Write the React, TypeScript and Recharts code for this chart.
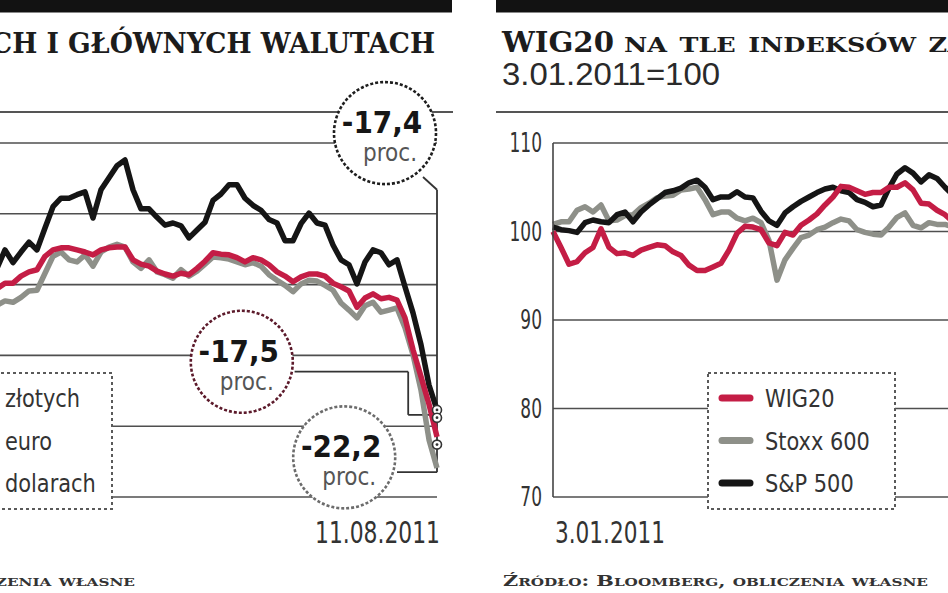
import React from 'react';
import { LineChart, Line, XAxis, YAxis, CartesianGrid, ReferenceDot, ReferenceLine, Legend } from 'recharts';

const RED = '#c41d45';
const GRAY = '#8e9089';
const BLACK = '#151515';
const GRID = '#4f4f4f';
const NARROW = "'Liberation Sans Narrow', 'DejaVu Sans Condensed', sans-serif";
const SLAB = "'DejaVu Serif', serif";

// left panel: WIG20 counted in PLN / EUR / USD, 3.01.2011 = 100 (only the visible stretch up to 11.08)
const leftZloty = [99.4, 100.2, 100.2, 101.2, 101.8, 102.1, 104.0, 104.9, 105.2, 105.2, 104.9, 104.6, 104.2, 104.9, 105.2, 105.3, 105.3, 103.5, 102.9, 102.6, 101.9, 101.5, 101.2, 101.6, 101.4, 102.3, 103.3, 104.5, 104.3, 104.2, 103.8, 103.2, 103.8, 103.5, 102.8, 101.8, 101.2, 100.4, 101.1, 101.5, 101.5, 101.2, 100.2, 99.7, 99.1, 96.8, 98.1, 98.7, 98.0, 98.2, 97.8, 95.3, 90.8, 87.0, 83.1, 78.5];
const leftEuro = [97.1, 97.7, 97.5, 98.2, 99.1, 99.2, 101.6, 104.0, 104.6, 103.5, 103.2, 104.2, 102.6, 104.6, 105.3, 105.7, 105.3, 103.2, 102.3, 103.5, 101.8, 101.4, 100.9, 102.1, 101.2, 101.9, 102.9, 103.9, 103.8, 103.6, 103.2, 102.8, 103.1, 102.6, 101.4, 100.6, 99.9, 99.0, 100.1, 100.6, 100.5, 99.9, 99.2, 97.4, 96.4, 95.3, 97.0, 97.5, 96.1, 96.4, 96.7, 93.9, 90.1, 85.1, 78.1, 74.1];
const leftDollar = [102.3, 104.9, 103.1, 104.6, 106.0, 104.9, 108.0, 111.0, 112.2, 112.2, 112.7, 113.1, 109.4, 113.4, 115.1, 116.8, 117.6, 113.4, 110.7, 110.7, 109.5, 108.4, 108.7, 108.3, 106.6, 107.7, 108.8, 111.9, 112.8, 114.1, 114.1, 112.2, 111.2, 110.5, 109.2, 108.7, 106.2, 106.2, 108.6, 110.1, 108.7, 108.4, 105.6, 103.5, 102.8, 100.1, 103.2, 104.9, 104.5, 102.8, 103.5, 99.7, 96.0, 91.5, 85.8, 82.3];
const leftTicks = [70, 80, 90, 100, 110, 120];
const leftDateLabels: Record<number, string> = { 55: '11.08.2011' };
const leftLegendOrder = ['złotych', 'euro', 'dolarach'];

// right panel: WIG20 vs foreign indices, 3.01.2011 = 100 (visible part, Jan - mid May)
const rightWig20 = [100.0, 98.2, 96.3, 96.6, 97.6, 98.2, 100.3, 98.2, 97.5, 97.6, 97.3, 97.9, 98.2, 98.5, 98.4, 97.7, 97.3, 96.2, 95.6, 95.6, 96.0, 96.4, 97.9, 99.8, 100.6, 100.5, 100.2, 98.7, 98.4, 99.9, 99.6, 100.7, 101.3, 102.0, 103.0, 103.9, 105.1, 105.0, 104.6, 104.2, 104.4, 104.4, 105.0, 105.0, 105.5, 104.7, 103.2, 103.1, 102.4, 101.9, 101.1];
const rightStoxx = [100.8, 101.1, 101.1, 102.4, 102.8, 102.2, 103.0, 101.2, 101.3, 101.8, 101.9, 102.7, 103.2, 103.8, 104.0, 104.1, 104.7, 104.8, 105.0, 103.6, 101.9, 102.2, 102.2, 101.5, 101.2, 101.5, 101.0, 99.0, 94.5, 96.8, 98.1, 99.3, 99.6, 100.2, 100.5, 101.0, 101.4, 101.2, 100.2, 99.9, 99.7, 99.6, 100.5, 101.6, 102.1, 100.7, 100.4, 101.0, 100.8, 100.8, 100.5];
const rightSp500 = [100.5, 100.2, 100.1, 99.9, 101.0, 101.3, 101.1, 101.0, 101.9, 102.2, 101.1, 102.2, 103.0, 103.7, 104.4, 104.6, 104.9, 105.5, 105.8, 105.0, 103.6, 103.9, 103.9, 104.5, 103.9, 103.8, 102.3, 101.2, 100.7, 102.1, 102.8, 103.4, 103.9, 104.4, 104.8, 105.0, 104.6, 104.4, 103.6, 103.3, 102.8, 103.0, 104.9, 106.5, 107.2, 106.6, 105.6, 106.4, 106.0, 105.0, 104.1];
const rightTicks = [70, 80, 90, 100, 110];
const rightDateLabels: Record<number, string> = { 0: '3.01.2011' };
const rightLegendOrder = ['WIG20', 'Stoxx 600', 'S&P 500'];

const leftData = leftZloty.map((v, i) => ({ t: i, pln: v, eur: leftEuro[i], usd: leftDollar[i] }));
const rightData = rightWig20.map((v, i) => ({ t: i, wig: v, stoxx: rightStoxx[i], sp: rightSp500[i] }));

// callouts on the left panel (in chart units)
const callouts = [
  { label: '-17,4', t: 48.5, v: 121.4, color: '#1e1e1e' },
  { label: '-17,5', t: 30.6, v: 89.1, color: '#5c1a2b' },
  { label: '-22,2', t: 43.4, v: 75.6, color: '#6c6c6c' },
];
const connectors = [
  [{ x: 53.25, y: 115.2 }, { x: 55, y: 113.4 }],
  [{ x: 55, y: 113.4 }, { x: 55, y: 73.5 }],
  [{ x: 55, y: 73.5 }, { x: 50, y: 73.5 }],
  [{ x: 37.2, y: 87.7 }, { x: 51.4, y: 87.7 }],
  [{ x: 51.4, y: 87.7 }, { x: 51.4, y: 81.6 }],
  [{ x: 51.4, y: 81.6 }, { x: 55, y: 81.6 }],
];
const endMarks = [82.3, 81.2, 77.4];

const Callout = (props: any) => {
  const { cx, cy, label, color } = props;
  return (
    <g>
      <circle cx={cx} cy={cy} r={51} fill="#fff" stroke={color} strokeWidth={2.6} strokeDasharray="3 2" />
      <text x={cx - 3} y={cy} textAnchor="middle" fontFamily={NARROW} fontWeight={700} fontSize={31} fill="#161616">{label}</text>
      <text x={cx + 5} y={cy + 28} textAnchor="middle" fontFamily={NARROW} fontSize={24} fill="#555">proc.</text>
    </g>
  );
};

const EndMark = (props: any) => {
  const { cx, cy } = props;
  return (
    <g>
      <circle cx={cx} cy={cy} r={4.5} fill="#fff" stroke="#333" strokeWidth={1.6} />
      <circle cx={cx} cy={cy} r={1.4} fill="#333" />
    </g>
  );
};

// narrow digits like the paper's condensed face
const ValueTick = (props: any) => {
  const { x, y, payload } = props;
  return (
    <g transform={`translate(${x},${y})`}>
      <text transform="scale(0.7,1)" dy={9} textAnchor="end" fontFamily={NARROW} fontSize={27} fill="#333">{payload.value}</text>
    </g>
  );
};

const DateTick = (props: any) => {
  const { x, y, payload, labels, anchor, shift, len } = props;
  return (
    <text x={x + shift} y={y} dy={38} textAnchor={anchor} textLength={len} lengthAdjust="spacingAndGlyphs"
      fontFamily={NARROW} fontSize={30} fill="#333">{labels[payload.value]}</text>
  );
};

const BoxLegend = (props: any) => {
  const { payload, order, width, textX } = props;
  const items = [...(payload || [])].sort((a: any, b: any) => order.indexOf(a.value) - order.indexOf(b.value));
  return (
    <svg width={width} height={138} style={{ display: 'block', overflow: 'visible' }}>
      <rect x={1} y={1} width={width - 2} height={136} fill="#fff" stroke="#5a5a5a" strokeWidth={2} strokeDasharray="3 3" />
      {items.map((it: any, i: number) => (
        <g key={it.value}>
          <line x1={textX - 43} x2={textX - 15} y1={26 + i * 42.5} y2={26 + i * 42.5} stroke={it.color} strokeWidth={7} strokeLinecap="round" />
          <g transform={`translate(${textX},${26 + i * 42.5 + 9})`}>
            <text transform="scale(0.93,1)" fontFamily={NARROW} fontSize={25} fill="#333">{it.value}</text>
          </g>
        </g>
      ))}
    </svg>
  );
};

const Frame = () => (
  <svg width={948} height={593} style={{ position: 'absolute', left: 0, top: 0 }}>
    <rect x={0} y={0} width={452} height={12.5} fill="#121212" />
    <rect x={496} y={0} width={452} height={12.5} fill="#121212" />
    <line x1={0} x2={453} y1={112} y2={112} stroke="#555" strokeWidth={2} />
    <line x1={496} x2={948} y1={112} y2={112} stroke="#555" strokeWidth={2} />

    <text x={-12} y={53} textAnchor="end" fontFamily={SLAB} fontWeight={700} fontSize={27} fill="#1c1c1c">WIG20 W ZŁOTY</text>
    <text x={-9} y={53} textLength={444} lengthAdjust="spacingAndGlyphs" fontFamily={SLAB} fontWeight={700} fontSize={27} fill="#1c1c1c">CH I GŁÓWNYCH WALUTACH</text>

    <text x={502} y={52} textLength={112} lengthAdjust="spacingAndGlyphs" fontFamily={SLAB} fontWeight={700} fontSize={27} fill="#1c1c1c">WIG20</text>
    <text x={624} y={52} textLength={565} lengthAdjust="spacingAndGlyphs" fontFamily={SLAB} fontWeight={700} fontSize={28} fill="#1c1c1c" style={{ fontVariant: 'small-caps' }}>na tle indeksów zagranicznych</text>
    <text x={502} y={85} textLength={218} lengthAdjust="spacingAndGlyphs" fontFamily="'Liberation Sans', sans-serif" fontSize={31} fill="#2a2a2a">3.01.2011=100</text>

    <text x={-290} y={586} textLength={425} lengthAdjust="spacingAndGlyphs" fontFamily={SLAB} fontWeight={700} fontSize={15} fill="#333" style={{ fontVariant: 'small-caps' }}>Źródło: Bloomberg, obliczenia własne</text>
    <text x={503} y={586} textLength={425} lengthAdjust="spacingAndGlyphs" fontFamily={SLAB} fontWeight={700} fontSize={15} fill="#333" style={{ fontVariant: 'small-caps' }}>Źródło: Bloomberg, obliczenia własne</text>
  </svg>
);

const App: React.FC = () => {
  return (
    <div style={{ position: 'fixed', left: 0, top: 0, width: 948, height: 593, overflow: 'hidden', background: '#fff' }}>
      <Frame />

      <div style={{ position: 'absolute', left: -3, top: 0 }}>
        <LineChart width={456} height={593} data={leftData} margin={{ top: 143, right: 16, bottom: 56, left: 0 }}>
          <CartesianGrid vertical={false} stroke={GRID} strokeWidth={1.6} />
          <XAxis dataKey="t" type="number" domain={[0, 55]} ticks={[55]} axisLine={false} tickLine={false} height={40}
            tick={<DateTick labels={leftDateLabels} anchor="end" shift={3} len={125} />} />
          <YAxis domain={[70, 120]} ticks={leftTicks} hide />
          {connectors.map((seg, i) => (
            <ReferenceLine key={i} segment={seg} stroke="#333" strokeWidth={1.8} ifOverflow="visible" />
          ))}
          {callouts.map((c) => (
            <ReferenceDot key={c.label} x={c.t} y={c.v} r={51} ifOverflow="visible"
              shape={(p: any) => <Callout {...p} label={c.label} color={c.color} />} />
          ))}
          <Line type="linear" dataKey="eur" name="euro" stroke={GRAY} strokeWidth={5.5} dot={false} isAnimationActive={false} strokeLinejoin="round" />
          <Line type="linear" dataKey="usd" name="dolarach" stroke={BLACK} strokeWidth={5.5} dot={false} isAnimationActive={false} strokeLinejoin="round" />
          <Line type="linear" dataKey="pln" name="złotych" stroke={RED} strokeWidth={5.5} dot={false} isAnimationActive={false} strokeLinejoin="round" />
          {endMarks.map((v, i) => (
            <ReferenceDot key={i} x={55} y={v} r={4.5} ifOverflow="visible" shape={(p: any) => <EndMark {...p} />} />
          ))}
          <Legend verticalAlign="bottom" wrapperStyle={{ left: -57, top: 372, width: 173, height: 0, overflow: 'visible' }}
            content={(p: any) => <BoxLegend {...p} order={leftLegendOrder} width={173} textX={65} />} />
        </LineChart>
      </div>

      <div style={{ position: 'absolute', left: 474, top: 0 }}>
        <LineChart width={480} height={593} data={rightData} margin={{ top: 143, right: 1, bottom: 56, left: 19 }}>
          <CartesianGrid vertical={false} stroke={GRID} strokeWidth={1.6} />
          <XAxis dataKey="t" type="number" domain={[0, 50]} ticks={[0]} axisLine={false} tickLine={false} height={40}
            tick={<DateTick labels={rightDateLabels} anchor="start" shift={2} len={110} />} />
          <YAxis domain={[70, 110]} ticks={rightTicks} width={60} tickLine={false} tickSize={0} tickMargin={11}
            axisLine={{ stroke: '#444', strokeWidth: 1.6 }} tick={<ValueTick />} />
          <Line type="linear" dataKey="stoxx" name="Stoxx 600" stroke={GRAY} strokeWidth={5.5} dot={false} isAnimationActive={false} strokeLinejoin="round" />
          <Line type="linear" dataKey="sp" name="S&P 500" stroke={BLACK} strokeWidth={5.5} dot={false} isAnimationActive={false} strokeLinejoin="round" />
          <Line type="linear" dataKey="wig" name="WIG20" stroke={RED} strokeWidth={5.5} dot={false} isAnimationActive={false} strokeLinejoin="round" />
          <Legend verticalAlign="bottom" wrapperStyle={{ left: 233, top: 372, width: 189, height: 0, overflow: 'visible' }}
            content={(p: any) => <BoxLegend {...p} order={rightLegendOrder} width={189} textX={58} />} />
        </LineChart>
      </div>
    </div>
  );
};

export default App;
